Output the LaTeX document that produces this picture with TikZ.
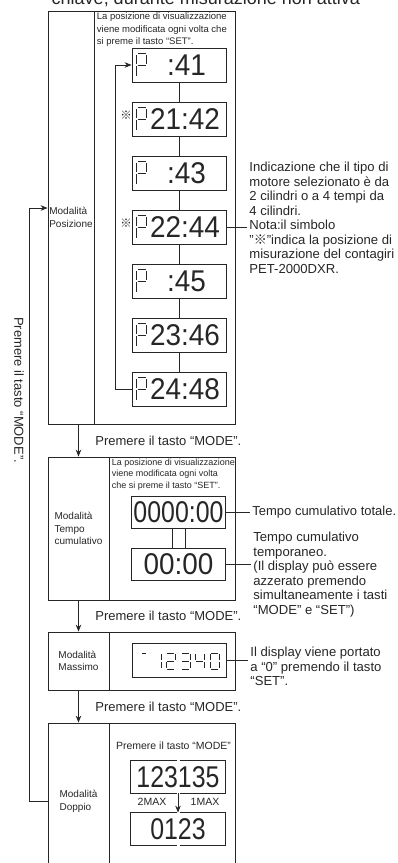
\documentclass[tikz,border=0pt]{standalone}
\usepackage{fontspec}
\setmainfont{Liberation Sans}
\newfontfamily\lcdfont[FakeStretch=0.93]{Liberation Sans}
\newfontfamily\lcdnarrow[FakeStretch=0.83]{Liberation Sans}
\newfontfamily\cjkfont{Noto Sans CJK JP}
\usetikzlibrary{arrows.meta,calc,positioning}

\tikzset{
  modeL/.style={draw, align=left, inner sep=0pt, font=\fontsize{10}{12.5}\selectfont},
  modeR/.style={draw},
  lcd/.style={draw, minimum width=94pt, minimum height=34pt, inner sep=0pt,
    font=\lcdfont\fontsize{30}{30}\selectfont},
  posbox/.style={lcd, text width=90pt, align=left},
  dual/.style={minimum width=94pt, minimum height=32pt, inner sep=0pt,
    font=\lcdnarrow\fontsize{30}{30}\selectfont},
  segline/.style={line width=0.7pt},
  note/.style={align=left, inner sep=2pt, font=\fontsize{13.1}{14.5}\selectfont},
  press/.style={inner sep=1pt, font=\fontsize{13}{14}\selectfont},
  hint/.style={align=left, inner sep=1.5pt},
  refmark/.style={inner sep=0pt, font=\cjkfont\fontsize{11.5}{11.5}\selectfont},
}

%% seven segment glyph: origin (top left), width, height, segments
\newcommand{\segchar}[4]{%
  \begin{scope}[shift={#1}]
    \foreach \sg in {#4}{%
      \if a\sg \draw[segline] (1,0) -- ({#2-1},0);\fi
      \if b\sg \draw[segline] (#2,1) -- (#2,{#3/2-1});\fi
      \if c\sg \draw[segline] (#2,{#3/2+1}) -- (#2,{#3-1});\fi
      \if d\sg \draw[segline] (1,#3) -- ({#2-1},#3);\fi
      \if e\sg \draw[segline] (0,{#3/2+1}) -- (0,{#3-1});\fi
      \if f\sg \draw[segline] (0,1) -- (0,{#3/2-1});\fi
      \if g\sg \draw[segline] (1,{#3/2}) -- ({#2-1},{#3/2});\fi
    }
  \end{scope}}

\begin{document}
\begin{tikzpicture}[x=1pt, y=-1pt, line width=0.8pt, color=black!85,
    >={Stealth[length=7pt,width=5.5pt]}]
  \useasboundingbox (0,0) rectangle (397,863);
  \clip (0,0) rectangle (397,863);

  \node[anchor=base west, font=\fontsize{18}{18}\selectfont] (title) at (48,4)
    {chiave, durante misurazione non attiva};

  %% mode frames
  \node[modeL, minimum width=46pt, minimum height=413pt] (posL) at ( 71,217.5) {Modalità\\Posizione};
  \node[modeR, minimum width=141pt, minimum height=413pt] (posR) at (164.5,217.5) {};
  \node[modeL, minimum width=61pt, minimum height=143pt] (tmpL) at (78.5,528.5) {Modalità\\Tempo\\cumulativo};
  \node[modeR, minimum width=126pt, minimum height=143pt] (tmpR) at (172,528.5) {};
  \node[modeL, minimum width=61pt, minimum height=58pt]  (masL) at (78.5,661) {Modalità\\Massimo};
  \node[modeR, minimum width=126pt, minimum height=58pt]  (masR) at (172,661) {};
  \node[modeL, minimum width=61pt, minimum height=157pt] (dopL) at (78.5,801.5) {Modalità\\Doppio};
  \node[modeR, minimum width=126pt, minimum height=157pt] (dopR) at (172,801.5) {};

  %% position mode
  \node[hint, anchor=north west, font=\fontsize{9.5}{12.5}\selectfont] (posHint) at (95,11)
    {La posizione di visualizzazione\\viene modificata ogni volta che\\si preme il tasto “SET”.};
  \node[posbox] (p41) at (179, 65) {\hspace*{33pt}:41};
  \node[posbox] (p42) at (179,119) {\hspace*{16pt}21:42};
  \node[posbox] (p43) at (179,173) {\hspace*{33pt}:43};
  \node[posbox] (p44) at (179,227) {\hspace*{16pt}22:44};
  \node[posbox] (p45) at (179,281) {\hspace*{33pt}:45};
  \node[posbox] (p46) at (179,335) {\hspace*{16pt}23:46};
  \node[posbox] (p48) at (179,389) {\hspace*{16pt}24:48};
  \foreach \b in {p41,p42,p43,p44,p45,p46,p48}{
    \path (\b.west) ++(5,-11.5) coordinate (o);
    \segchar{(o)}{10}{23}{a,b,f,g,e}
  }
  \node[refmark] (m42) at ($(p42.west)+(-5.5,-4)$) {※};
  \node[refmark] (m44) at ($(p44.west)+(-5.5,-4)$) {※};
  \draw (p41) -- (p42) -- (p43) -- (p44) -- (p45) -- (p46) -- (p48);
  \draw[->] (p48.west) -- ++(-16,0) |- (p41.west);

  \node[note, anchor=north west] (noteTxt) at (247,160)
    {Indicazione che il tipo di\\motore selezionato è da\\2 cilindri o a 4 tempi da\\4 cilindri.\\Nota:il simbolo\\"{\cjkfont ※}"indica la posizione di\\misurazione del contagiri\\PET-2000DXR.};
  \draw (p44.east) -- (p44.east -| noteTxt.west);

  %% back to position mode
  \node[rotate=-90, font=\fontsize{13}{13}\selectfont] (backTxt) at (19,390) {Premere il tasto “MODE”.};
  \draw[->] (dopL.west) -- ++(-18,0) |- ($(posL.west)+(0,-9.5)$);

  %% cumulative time mode
  \draw[->] (posL.south -| tmpL.north) -- (tmpL.north);
  \node[press, anchor=west] (press1) at (94,440.5) {Premere il tasto “MODE”.};
  \node[hint, anchor=north west, font=\fontsize{9}{11.5}\selectfont] (tmpHint) at (110,457)
    {La posizione di visualizzazione\\viene modificata ogni volta\\che si preme il tasto “SET”.};
  \node[lcd, minimum height=32pt, font=\lcdnarrow\fontsize{30}{30}\selectfont] (t0000) at (178.5,512) {0000:00};
  \node[lcd, minimum height=32pt] (t00) at (178.5,564) {00:00};
  \draw ([xshift=-6.5pt]t0000.south) -- ([xshift=-6.5pt]t00.north);
  \draw ([xshift=6.5pt]t0000.south) -- ([xshift=6.5pt]t00.north);
  \node[press, anchor=west, inner sep=2pt] (totTxt) at (250,512) {Tempo cumulativo totale.};
  \draw (t0000.east) -- (totTxt.west);
  \node[note, anchor=north west] (tmpTxt) at (251,530)
    {Tempo cumulativo\\temporaneo.\\(Il display può essere\\azzerato premendo\\simultaneamente i tasti\\“MODE” e “SET”)};
  \draw (t00.east) -- (t00.east -| tmpTxt.west);

  %% maximum mode
  \draw[->] (tmpL.south) -- (masL.north);
  \node[press, anchor=west] (press2) at (94,616) {Premere il tasto “MODE”.};
  \node[lcd] (m12340) at (179,660) {};
  \segchar{(141,653)}{6}{16}{a}
  \segchar{(152,653)}{9}{16}{b,c}
  \segchar{(166,653)}{9}{16}{a,b,g,e,d}
  \segchar{(181,653)}{9}{16}{a,b,g,c,d}
  \segchar{(195,653)}{9}{16}{f,g,b,c}
  \segchar{(210,653)}{9}{16}{a,b,c,d,e,f}
  \node[note, anchor=north west] (masTxt) at (248,645)
    {Il display viene portato\\a “0” premendo il tasto\\“SET”.};
  \draw (m12340.east) -- (m12340.east -| masTxt.west);

  %% double mode
  \draw[->] (masL.south) -- (dopL.north);
  \node[press, anchor=west] (press3) at (94,706.5) {Premere il tasto “MODE”.};
  \node[hint, font=\fontsize{10.5}{12}\selectfont] (dopHint) at (173.5,746) {Premere il tasto “MODE”};
  \node[dual] (v1) at (178,777) {123135};
  \node[dual] (v2) at (178,829) {0123};
  \foreach \v in {v1,v2}{
    \draw ([xshift=-1.5pt]\v.north) -| (\v.south west) -- ([xshift=-1.5pt]\v.south);
    \draw ([xshift=1.5pt]\v.north) -| (\v.south east) -- ([xshift=1.5pt]\v.south);
  }
  \draw[->] (v1.south) -- (v2.north);
  \node[font=\fontsize{10.5}{10.5}\selectfont] (max2) at (152,802) {2MAX};
  \node[font=\fontsize{10.5}{10.5}\selectfont] (max1) at (205,802) {1MAX};
\end{tikzpicture}
\end{document}
